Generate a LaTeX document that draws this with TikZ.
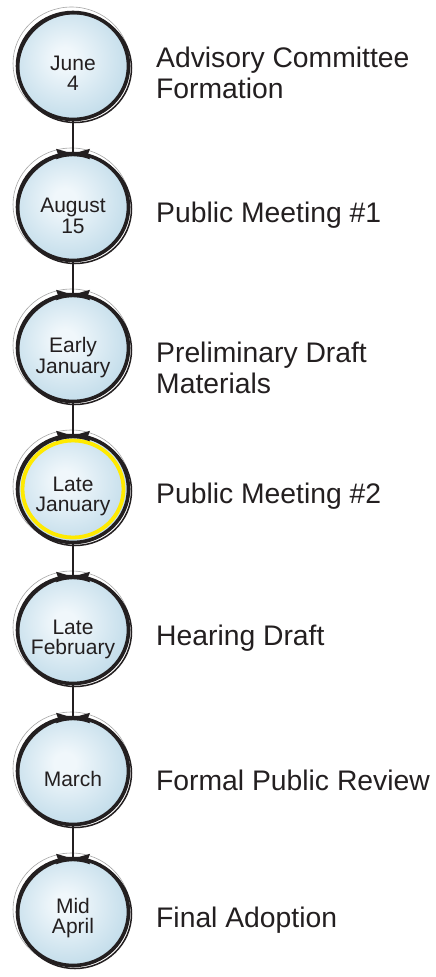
\documentclass[tikz,border=0pt]{standalone}
\usepackage{fontspec}
\setmainfont{Liberation Sans}
\usetikzlibrary{shapes.geometric}
\definecolor{bubin}{HTML}{F0F7FB}
\definecolor{bubout}{HTML}{9FC8DD}
\definecolor{ink}{HTML}{231F20}
\definecolor{ringyellow}{HTML}{FFEA00}
\pgfdeclareradialshading{bubble}{\pgfpoint{-4bp}{4bp}}{color(0bp)=(bubin); color(5bp)=(bubin); color(47bp)=(bubout); color(72bp)=(bubout)}
\newcommand\mybub[2]{%
  \node[bubblenode] (#1) at (73,#2) {};
  \draw[ringgray] ([shift={(-1.5,-2.5)}]#1.center) ellipse [x radius=58.5pt, y radius=56.5pt];
  \draw[ringwhite] ([shift={(1.2,1.2)}]#1.center) ellipse [x radius=56.3pt, y radius=54.3pt];
  \draw[ringthin] ([shift={(2,2)}]#1.center) ellipse [x radius=56.5pt, y radius=54.5pt];
  \draw[ringmain] (#1.center) ellipse [x radius=55.5pt, y radius=53.5pt];
}
\newcommand\mybow[1]{%
  \begin{scope}[shift={(#1.north)}, yshift=-1pt]
    \fill[ink] (-17,-6) .. controls (-9,-4) .. (0,-1.2) -- (0,1.4) .. controls (-9,2) .. (-17,4.5) -- (-15,-0.5) -- cycle;
    \fill[ink] (17,-6) .. controls (9,-4) .. (0,-1.2) -- (0,1.4) .. controls (9,2) .. (17,4.5) -- (15,-0.5) -- cycle;
  \end{scope}
}
\begin{document}
\begin{tikzpicture}[x=1pt,y=-1pt,
  bubblenode/.style={ellipse, minimum width=110pt, minimum height=106pt, inner sep=0pt, shade, shading=bubble},
  ringmain/.style={draw=ink, line width=3.6pt},
  ringthin/.style={draw=ink, line width=1.5pt},
  ringwhite/.style={draw=white, line width=1pt},
  ringgray/.style={draw=black!35, line width=0.6pt},
  yring/.style={draw=ringyellow, line width=3.8pt},
  conn/.style={draw=ink, line width=2.8pt},
  dt/.style={font=\fontsize{21pt}{21pt}\selectfont, text=ink, inner sep=0pt, anchor=base},
  lab/.style={font=\fontsize{28.3pt}{31pt}\selectfont, text=ink, inner sep=0pt, anchor=base west}]
\fill[white] (0,0) rectangle (436,977);
\useasboundingbox (0,0) rectangle (436,977);

\mybub{c1}{66}
\mybub{c2}{207}
\mybub{c3}{348}
\mybub{c4}{489}
\mybub{c5}{630}
\mybub{c6}{771}
\mybub{c7}{912}
\draw[yring] (c4.center) ellipse [x radius=50.5pt, y radius=48.5pt];

\draw[conn] (c1.south) -- (c2.north);
\draw[conn] (c2.south) -- (c3.north);
\draw[conn] (c3.south) -- (c4.north);
\draw[conn] (c4.south) -- (c5.north);
\draw[conn] (c5.south) -- (c6.north);
\draw[conn] (c6.south) -- (c7.north);
\mybow{c2}
\mybow{c3}
\mybow{c4}
\mybow{c5}
\mybow{c6}
\mybow{c7}

\node[dt] (t1a) at (73,70) {June};
\node[dt] (t1b) at (73,90) {4};
\node[dt] (t2a) at (73,212) {August};
\node[dt] (t2b) at (73,233) {15};
\node[dt] (t3a) at (73,352) {Early};
\node[dt] (t3b) at (73,373) {January};
\node[dt] (t4a) at (73,491) {Late};
\node[dt] (t4b) at (73,511) {January};
\node[dt] (t5a) at (73,634) {Late};
\node[dt] (t5b) at (73,654) {February};
\node[dt] (t6a) at (73,786) {March};
\node[dt] (t7a) at (73,913) {Mid};
\node[dt] (t7b) at (73,933) {April};

\node[lab] (l1a) at (156,67) {Advisory Committee};
\node[lab] (l1b) at (156,98) {Formation};
\node[lab] (l2a) at (156,222) {Public Meeting \#1};
\node[lab] (l3a) at (156,362) {Preliminary Draft};
\node[lab] (l3b) at (156,393) {Materials};
\node[lab] (l4a) at (156,503) {Public Meeting \#2};
\node[lab] (l5a) at (156,645) {Hearing Draft};
\node[lab] (l6a) at (156,790) {Formal Public Review};
\node[lab] (l7a) at (156,927) {Final Adoption};
\end{tikzpicture}
\end{document}
